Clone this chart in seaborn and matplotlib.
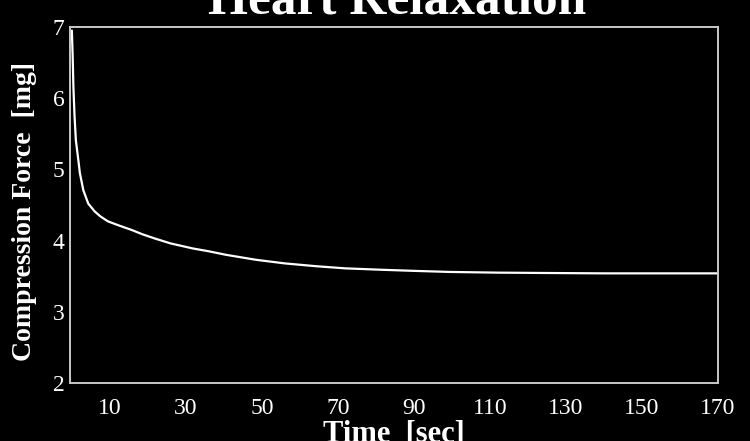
import matplotlib
matplotlib.use("Agg")
import matplotlib.pyplot as plt
import seaborn as sns
import pandas as pd

# data
time_sec = [0, 0.2, 0.4, 0.7, 1.05, 1.7, 2.1, 3.0, 4.3, 6.0, 7.5, 9.5, 12.5, 15.7, 18.5,
            21.8, 26, 31.8, 36, 40.6, 48.5, 56, 64.3, 72, 81.7, 90, 99.3, 112, 125, 140,
            155, 170]
force_mg = [6.95, 6.6, 6.16, 5.75, 5.41, 5.13, 4.95, 4.71, 4.52, 4.41, 4.34, 4.27, 4.21,
            4.15, 4.09, 4.03, 3.96, 3.89, 3.85, 3.80, 3.73, 3.68, 3.64, 3.61, 3.59, 3.575,
            3.56, 3.55, 3.545, 3.54, 3.54, 3.54]
x_ticks = [10, 30, 50, 70, 90, 110, 130, 150, 170]
y_ticks = [2, 3, 4, 5, 6, 7]

df = pd.DataFrame({"Time": time_sec, "Force": force_mg})

sns.set_style("dark", {"axes.facecolor": "black", "figure.facecolor": "black"})
plt.rcParams["font.family"] = ["Liberation Serif", "DejaVu Serif"]

fig = plt.figure(figsize=(7.5, 4.41), dpi=100, facecolor="black")
ax = fig.add_axes([0.0933, 0.1315, 0.864, 0.8073])
ax.set_facecolor("black")

sns.lineplot(data=df, x="Time", y="Force", ax=ax, color="white", linewidth=1.6)

ax.set_xlim(-0.5, 170)
ax.set_ylim(2, 7)
ax.set_xticks(x_ticks)
ax.set_yticks(y_ticks)
ax.tick_params(axis="x", direction="in", length=3, color="#bbbbbb", labelsize=17,
               labelcolor="white", pad=11)
ax.tick_params(axis="y", direction="out", length=3, color="#bbbbbb", labelsize=17,
               labelcolor="white", pad=1)
ax.grid(False)
for side in ["left", "right", "top", "bottom"]:
    ax.spines[side].set_visible(True)
    ax.spines[side].set_color("#c8c8c8")
    ax.spines[side].set_linewidth(1.4)

ax.set_xlabel("Time  [sec]", fontsize=22, fontweight="bold", color="white", labelpad=0)
ax.set_ylabel("Compression Force  [mg]", fontsize=20, fontweight="bold", color="white")
ax.yaxis.set_label_coords(-0.051, 0.483)

# title sits partly above the canvas, as in the reference
fig.text(0.53, 1 - 14 / 441, "Heart Relaxation", fontsize=37, fontweight="bold",
         color="white", ha="center", va="baseline")

fig.savefig("out.png", dpi=100, facecolor="black")
